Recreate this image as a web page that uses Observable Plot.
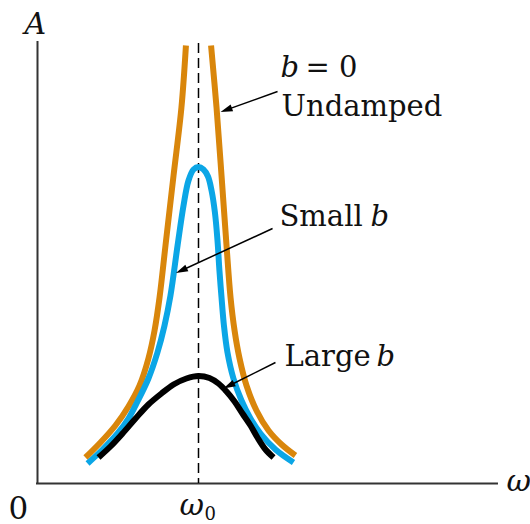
<!DOCTYPE html>
<html>
<head>
<meta charset="utf-8">
<script src="https://cdn.jsdelivr.net/npm/d3@7"></script>
<script src="https://cdn.jsdelivr.net/npm/@observablehq/plot@0.6"></script>
<style>
  html, body { margin: 0; padding: 0; background: #fff; overflow: hidden; }
</style>
</head>
<body>
<div id="chart"></div>
<script>
// ---- Data (ω in units of ω0, A in arbitrary units) ----
const undampedLeftOmega = [0.298, 0.391, 0.484, 0.565, 0.634, 0.689, 0.727, 0.758, 0.795, 0.845, 0.894, 0.922];
const undampedLeftAmp   = [0.26, 0.41, 0.58, 0.77, 0.98, 1.25, 1.53, 1.86, 2.38, 3.08, 3.76, 4.38];
const undampedRightOmega = [1.078, 1.112, 1.143, 1.174, 1.199, 1.224, 1.255, 1.298, 1.360, 1.435, 1.516, 1.602];
const undampedRightAmp   = [4.38, 3.76, 3.08, 2.38, 1.86, 1.53, 1.25, 0.98, 0.73, 0.53, 0.39, 0.28];

const smallBOmega = [0.311, 0.404, 0.497, 0.565, 0.621, 0.689, 0.745, 0.789, 0.826, 0.870, 0.907, 0.938, 0.969, 1.000,
                     1.031, 1.059, 1.081, 1.102, 1.118, 1.130, 1.143, 1.158, 1.180, 1.217, 1.267, 1.323, 1.385, 1.478, 1.590];
const smallBAmp   = [0.20, 0.34, 0.50, 0.65, 0.82, 1.05, 1.31, 1.58, 1.88, 2.38, 2.78, 3.03, 3.14, 3.165,
                     3.14, 3.07, 2.93, 2.71, 2.43, 2.13, 1.86, 1.58, 1.31, 1.05, 0.83, 0.65, 0.50, 0.34, 0.21];

const largeBOmega = [0.379, 0.453, 0.528, 0.609, 0.689, 0.770, 0.845, 0.925, 1.000, 1.068, 1.124, 1.174, 1.224, 1.273, 1.323, 1.366, 1.416, 1.466];
const largeBAmp   = [0.26, 0.37, 0.50, 0.65, 0.79, 0.90, 0.99, 1.05, 1.075, 1.055, 1.00, 0.92, 0.82, 0.70, 0.58, 0.46, 0.34, 0.26];

const resonanceOmega = 1;        // ω0
const axisTopAmp = 4.41;
const axisRightOmega = 2.857;

// ---- Tables built from the arrays ----
const undamped = [
  ...undampedLeftOmega.map((w, i) => ({w, a: undampedLeftAmp[i], branch: "left"})),
  ...undampedRightOmega.map((w, i) => ({w, a: undampedRightAmp[i], branch: "right"}))
];
const smallB = smallBOmega.map((w, i) => ({w, a: smallBAmp[i]}));
const largeB = largeBOmega.map((w, i) => ({w, a: largeBAmp[i]}));

// ---- Scales ----
const W = 530, H = 524;
const xDomain = [0, 3], xRange = [37, 520];
const yDomain = [0, 4.83], yRange = [483, 0];
const sx = d3.scaleLinear(xDomain, xRange);
const sy = d3.scaleLinear(yDomain, yRange);

// ---- Annotations (data coordinates) ----
const uprightLabels = [
  {t: "= 0", w: 1.665, a: 4.07, s: 29},
  {t: "Undamped", w: 1.516, a: 3.68, s: 29},
  {t: "Small", w: 1.503, a: 2.58, s: 29},
  {t: "Large", w: 1.534, a: 1.18, s: 29},
  {t: "0", w: -0.180, a: -0.35, s: 31},
  {t: "0", w: 1.037, a: -0.36, s: 18}
];
const italicLabels = [
  {t: "b", w: 1.509, a: 4.07, s: 29},
  {t: "b", w: 2.068, a: 2.58, s: 29},
  {t: "b", w: 2.106, a: 1.18, s: 29},
  {t: "A", w: -0.081, a: 4.50, s: 30},
  {t: "ω", w: 2.913, a: -0.07, s: 30},
  {t: "ω", w: 0.882, a: -0.31, s: 30}
];
const arrows = [
  {w1: 1.491, a1: 3.92, w2: 1.137, a2: 3.715},
  {w1: 1.460, a1: 2.55, w2: 0.860, a2: 2.105},
  {w1: 1.478, a1: 1.21, w2: 1.155, a2: 0.95}
];
const headLen = 12, headHalf = 3.6;
const arrowParts = arrows.map(d => {
  const x1 = sx(d.w1), y1 = sy(d.a1), x2 = sx(d.w2), y2 = sy(d.a2);
  const L = Math.hypot(x2 - x1, y2 - y1);
  const ux = (x2 - x1) / L, uy = (y2 - y1) / L;
  const ex = x2 - ux * headLen * 0.7, ey = y2 - uy * headLen * 0.7;
  return {
    w1: d.w1, a1: d.a1, w2: d.w2, a2: d.a2,
    we: sx.invert(ex), ae: sy.invert(ey),
    angle: Math.atan2(ux, -uy) * 180 / Math.PI
  };
});
const headSymbol = {
  draw(context) {
    context.moveTo(0, 0);
    context.lineTo(headHalf, headLen);
    context.lineTo(-headHalf, headLen);
    context.closePath();
  }
};

const serif = "DejaVu Serif";

const chart = Plot.plot({
  width: W,
  height: H,
  margin: 0,
  x: {domain: xDomain, range: xRange, axis: null},
  y: {domain: yDomain, range: yRange, axis: null},
  style: {background: "#fff"},
  marks: [
    // axes
    Plot.ruleX([0], {y1: 0, y2: axisTopAmp, stroke: "#333", strokeWidth: 2, strokeLinecap: "square"}),
    Plot.ruleY([0], {x1: 0, x2: axisRightOmega, stroke: "#333", strokeWidth: 2, strokeLinecap: "square"}),
    // resonance line
    Plot.ruleX([resonanceOmega], {y1: 4.40, y2: 0, stroke: "#000", strokeWidth: 1.5, strokeDasharray: "10,5"}),
    // curves
    Plot.line(undamped, {x: "w", y: "a", z: "branch", stroke: "#d9860b", strokeWidth: 6, curve: "catmull-rom", strokeLinecap: "butt"}),
    Plot.line(smallB, {x: "w", y: "a", stroke: "#0ba6e6", strokeWidth: 6, curve: "catmull-rom", strokeLinecap: "butt"}),
    Plot.line(largeB, {x: "w", y: "a", stroke: "#000", strokeWidth: 6, curve: "catmull-rom", strokeLinecap: "butt"}),
    // arrows
    Plot.link(arrowParts, {x1: "w1", y1: "a1", x2: "we", y2: "ae", stroke: "#000", strokeWidth: 1.5}),
    Plot.dot(arrowParts, {x: "w2", y: "a2", rotate: "angle", symbol: headSymbol, r: 5, fill: "#000", stroke: "none"}),
    // labels
    Plot.text(uprightLabels, {x: "w", y: "a", text: "t", fontSize: "s", fontFamily: serif, textAnchor: "start", lineAnchor: "bottom", fill: "#111"}),
    Plot.text(italicLabels, {x: "w", y: "a", text: "t", fontSize: "s", fontFamily: serif, fontStyle: "italic", textAnchor: "start", lineAnchor: "bottom", fill: "#111"})
  ]
});
document.getElementById("chart").appendChild(chart);
</script>
</body>
</html>
